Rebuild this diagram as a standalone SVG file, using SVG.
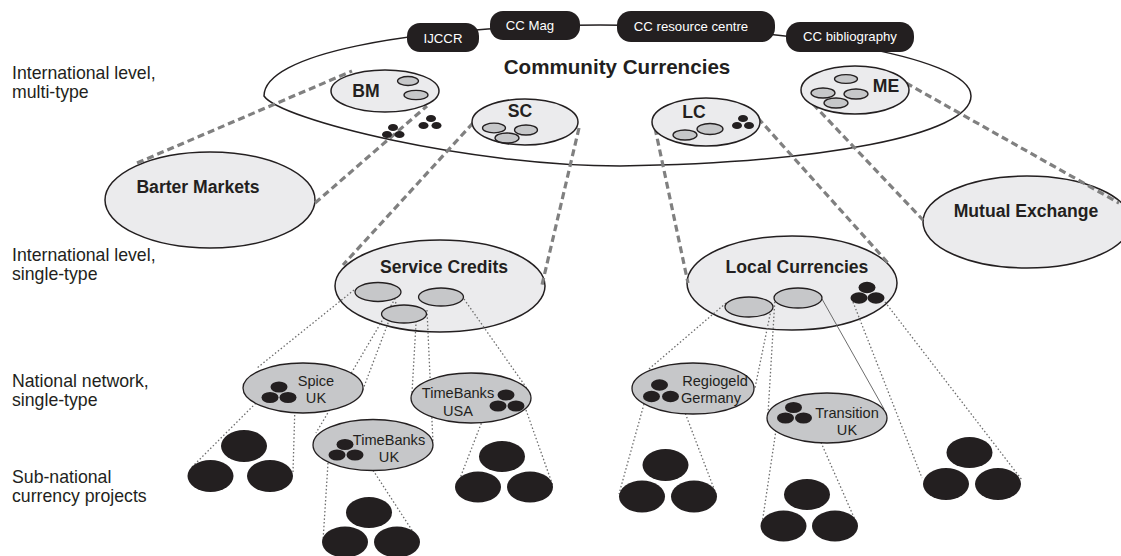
<svg xmlns="http://www.w3.org/2000/svg" width="1121" height="556" viewBox="0 0 1121 556">
<style>
text{font-family:"Liberation Sans",Arial,sans-serif;fill:#231f20}
.lbl{font-size:17.7px}
.b{font-weight:bold;font-size:17.6px}
.n{font-size:14.6px}
.bt{font-size:13.2px;fill:#fff}
.bk{fill:#231f20}
.badge{fill:#231f20}
.light{fill:#ebebed;stroke:#231f20;stroke-width:1.5}
.mid{fill:#c6c7c9;stroke:#231f20;stroke-width:1.3}
.outline{fill:none;stroke:#231f20;stroke-width:1.5}
.dash{stroke:#808080;stroke-width:3.2;stroke-dasharray:7 4;fill:none}
.dot{stroke:#6d6d6d;stroke-width:1.3;stroke-dasharray:1.5 2.2;fill:none}
.thin{stroke:#6d6d6d;stroke-width:1;fill:none}
</style>
<rect width="1121" height="556" fill="#fff"/>

<g id="level-labels">
<text class="lbl" x="12" y="79">International level,</text>
<text class="lbl" x="12" y="98">multi-type</text>
<text class="lbl" x="12" y="261">International level,</text>
<text class="lbl" x="12" y="280">single-type</text>
<text class="lbl" x="12" y="387">National network,</text>
<text class="lbl" x="12" y="406">single-type</text>
<text class="lbl" x="12" y="483">Sub-national</text>
<text class="lbl" x="12" y="502">currency projects</text>
</g>

<g id="community-currencies">
<path class="outline" d="M264,96 C264,55 400,27 600,25 C780,27 971,55 971,96 C971,135 820,163 620,166 C470,166 280,120 264,96 Z"/>
<text x="617" y="74" text-anchor="middle" style="font-weight:bold;font-size:20.6px">Community Currencies</text>
</g>

<g id="barter-markets">
<ellipse class="light" cx="210" cy="200" rx="105" ry="48"/>
<text class="b" x="198" y="193" text-anchor="middle">Barter Markets</text>
</g>
<g id="mutual-exchange">
<ellipse class="light" cx="1027" cy="222" rx="104" ry="46"/>
<text class="b" x="1026" y="217" text-anchor="middle">Mutual Exchange</text>
</g>
<g id="service-credits-shape">
<ellipse class="light" cx="440" cy="286" rx="105" ry="46"/>
<text class="b" x="444" y="273" text-anchor="middle">Service Credits</text>
</g>
<g id="local-currencies-shape">
<ellipse class="light" cx="792" cy="283" rx="105" ry="47"/>
<text class="b" x="797" y="273" text-anchor="middle">Local Currencies</text>
</g>

<g id="connectors">
<line class="dash" x1="137" y1="163" x2="352" y2="71"/>
<line class="dash" x1="315" y1="203" x2="427" y2="106"/>
<line class="dash" x1="473" y1="123" x2="343" y2="265"/>
<line class="dash" x1="579" y1="128" x2="542" y2="285"/>
<line class="dash" x1="655" y1="128" x2="688" y2="283"/>
<line class="dash" x1="758" y1="118" x2="888" y2="263"/>
<line class="dash" x1="813" y1="104" x2="923" y2="220"/>
<line class="dash" x1="906" y1="83" x2="1119" y2="203"/>

<line class="dot" x1="354" y1="290" x2="257" y2="368"/>
<line class="dot" x1="399" y1="292" x2="316" y2="433"/>
<line class="dot" x1="396" y1="302" x2="362" y2="392"/>
<line class="dot" x1="417" y1="306" x2="412" y2="393"/>
<line class="dot" x1="427" y1="310" x2="433" y2="443"/>
<line class="dot" x1="464" y1="299" x2="528" y2="390"/>

<line class="dot" x1="726" y1="303" x2="649" y2="369"/>
<line class="dot" x1="771" y1="310" x2="755" y2="388"/>
<line class="dot" x1="775" y1="298" x2="768" y2="414"/>
<line class="thin" x1="822" y1="299" x2="884" y2="409"/>
<line class="dot" x1="853" y1="302" x2="922" y2="478"/>
<line class="dot" x1="885" y1="302" x2="1022" y2="480"/>

<line class="dot" x1="261" y1="398" x2="192" y2="467"/>
<line class="dot" x1="295" y1="404" x2="293" y2="472"/>
<line class="dot" x1="328" y1="463" x2="323" y2="541"/>
<line class="dot" x1="367" y1="461" x2="419" y2="541"/>
<line class="dot" x1="488" y1="406" x2="457" y2="486"/>
<line class="dot" x1="526" y1="410" x2="553" y2="486"/>
<line class="dot" x1="644" y1="404" x2="619" y2="494"/>
<line class="dot" x1="684" y1="410" x2="716" y2="494"/>
<line class="dot" x1="776" y1="430" x2="762" y2="524"/>
<line class="dot" x1="812" y1="422" x2="856" y2="522"/>
</g>

<g id="badge-ijccr">
<rect class="badge" x="407" y="23" width="72" height="29" rx="13"/>
<text class="bt" x="443" y="42.5" text-anchor="middle">IJCCR</text>
</g>
<g id="badge-ccmag">
<rect class="badge" x="490" y="11" width="90" height="29" rx="13"/>
<text class="bt" x="530" y="30" text-anchor="middle">CC Mag</text>
</g>
<g id="badge-resource">
<rect class="badge" x="617" y="11" width="158" height="31" rx="14"/>
<text class="bt" x="691" y="30.5" text-anchor="middle">CC resource centre</text>
</g>
<g id="badge-bibliography">
<rect class="badge" x="786" y="22" width="128" height="30" rx="14"/>
<text class="bt" x="850" y="41" text-anchor="middle">CC bibliography</text>
</g>

<g id="bm">
<ellipse class="light" cx="385" cy="91" rx="54" ry="21"/>
<text class="b" x="366" y="97" text-anchor="middle">BM</text>
<ellipse class="mid" cx="408" cy="81" rx="10.5" ry="4.5"/>
<ellipse class="mid" cx="416" cy="95" rx="12" ry="4.7"/>
</g>
<g id="bm-projects">
<ellipse class="bk" cx="393" cy="127.5" rx="5" ry="3.6"/>
<ellipse class="bk" cx="387" cy="134.5" rx="5" ry="3.6"/>
<ellipse class="bk" cx="399.5" cy="134.5" rx="5" ry="3.6"/>
<ellipse class="bk" cx="431" cy="118.5" rx="5" ry="3.6"/>
<ellipse class="bk" cx="423.5" cy="125.5" rx="5" ry="3.6"/>
<ellipse class="bk" cx="436.5" cy="125.5" rx="5" ry="3.6"/>
</g>
<g id="sc">
<ellipse class="light" cx="525" cy="122" rx="53" ry="23"/>
<text class="b" x="520" y="117" text-anchor="middle">SC</text>
<ellipse class="mid" cx="494" cy="128" rx="11.5" ry="4.8"/>
<ellipse class="mid" cx="526" cy="130" rx="11.5" ry="5"/>
<ellipse class="mid" cx="507" cy="138" rx="12" ry="5"/>
</g>
<g id="lc">
<ellipse class="light" cx="706" cy="122" rx="54" ry="24"/>
<text class="b" x="694" y="118" text-anchor="middle">LC</text>
<ellipse class="mid" cx="685" cy="135" rx="12" ry="5"/>
<ellipse class="mid" cx="710" cy="129" rx="13" ry="5.5"/>
<ellipse class="bk" cx="743" cy="118.5" rx="5" ry="3.6"/>
<ellipse class="bk" cx="737" cy="125.5" rx="5" ry="3.6"/>
<ellipse class="bk" cx="749" cy="125.5" rx="5" ry="3.6"/>
</g>
<g id="me">
<ellipse class="light" cx="855" cy="90" rx="54" ry="24"/>
<text class="b" x="886" y="92" text-anchor="middle">ME</text>
<ellipse class="mid" cx="846" cy="79" rx="11.5" ry="4.3"/>
<ellipse class="mid" cx="823" cy="93" rx="12" ry="5"/>
<ellipse class="mid" cx="856" cy="94" rx="12" ry="5"/>
<ellipse class="mid" cx="836" cy="103" rx="12" ry="5"/>
</g>

<g id="service-credits-members">
<ellipse class="mid" cx="378" cy="292" rx="23" ry="9.5"/>
<ellipse class="mid" cx="441" cy="297" rx="22.5" ry="9"/>
<ellipse class="mid" cx="404" cy="314" rx="22.5" ry="9"/>
</g>
<g id="local-currencies-members">
<ellipse class="mid" cx="749" cy="307" rx="24" ry="10"/>
<ellipse class="mid" cx="798" cy="298" rx="24" ry="10"/>
<ellipse class="bk" cx="867" cy="287.5" rx="8.5" ry="5.7"/>
<ellipse class="bk" cx="859" cy="298" rx="8.5" ry="5.7"/>
<ellipse class="bk" cx="876" cy="298" rx="8.5" ry="5.7"/>
</g>

<g id="spice-uk">
<ellipse class="mid" cx="303" cy="388" rx="60" ry="25"/>
<ellipse class="bk" cx="279" cy="387" rx="8.5" ry="5.5"/>
<ellipse class="bk" cx="270" cy="397.5" rx="8.5" ry="5.5"/>
<ellipse class="bk" cx="288" cy="397.5" rx="8.5" ry="5.5"/>
<text class="n" x="316" y="386" text-anchor="middle">Spice</text>
<text class="n" x="316" y="403" text-anchor="middle">UK</text>
</g>
<g id="timebanks-uk">
<ellipse class="mid" cx="373" cy="445" rx="60" ry="25.5"/>
<ellipse class="bk" cx="345" cy="444.5" rx="8.5" ry="5.5"/>
<ellipse class="bk" cx="337" cy="455" rx="8.5" ry="5.5"/>
<ellipse class="bk" cx="355" cy="455" rx="8.5" ry="5.5"/>
<text class="n" x="389" y="445" text-anchor="middle">TimeBanks</text>
<text class="n" x="389" y="462" text-anchor="middle">UK</text>
</g>
<g id="timebanks-usa">
<ellipse class="mid" cx="471" cy="398" rx="60" ry="25"/>
<text class="n" x="458" y="398" text-anchor="middle">TimeBanks</text>
<text class="n" x="458" y="416" text-anchor="middle">USA</text>
<ellipse class="bk" cx="506" cy="395" rx="8.5" ry="5.5"/>
<ellipse class="bk" cx="498" cy="406" rx="8.5" ry="5.5"/>
<ellipse class="bk" cx="516" cy="406" rx="8.5" ry="5.5"/>
</g>
<g id="regiogeld-germany">
<ellipse class="mid" cx="693" cy="388.5" rx="61" ry="25.5"/>
<ellipse class="bk" cx="659.5" cy="385" rx="8.5" ry="5.7"/>
<ellipse class="bk" cx="651.5" cy="396.5" rx="8.5" ry="5.7"/>
<ellipse class="bk" cx="670.5" cy="396.5" rx="8.5" ry="5.7"/>
<text class="n" x="715" y="386" text-anchor="middle">Regiogeld</text>
<text class="n" x="711" y="403" text-anchor="middle">Germany</text>
</g>
<g id="transition-uk">
<ellipse class="mid" cx="827" cy="418" rx="60" ry="25"/>
<ellipse class="bk" cx="793.5" cy="407.5" rx="8.5" ry="5.5"/>
<ellipse class="bk" cx="785.5" cy="418" rx="8.5" ry="5.5"/>
<ellipse class="bk" cx="803.5" cy="418" rx="8.5" ry="5.5"/>
<text class="n" x="847" y="418" text-anchor="middle">Transition</text>
<text class="n" x="847" y="435" text-anchor="middle">UK</text>
</g>

<g id="projects-spice">
<ellipse class="bk" cx="244" cy="446" rx="23" ry="16"/>
<ellipse class="bk" cx="210.5" cy="476" rx="23" ry="16"/>
<ellipse class="bk" cx="270" cy="476" rx="23" ry="16"/>
</g>
<g id="projects-timebanks-uk">
<ellipse class="bk" cx="369" cy="512.5" rx="23" ry="15.5"/>
<ellipse class="bk" cx="345" cy="542" rx="23" ry="15.5"/>
<ellipse class="bk" cx="397" cy="542" rx="23" ry="15.5"/>
</g>
<g id="projects-timebanks-usa">
<ellipse class="bk" cx="502" cy="456.5" rx="23" ry="15.5"/>
<ellipse class="bk" cx="478" cy="487" rx="23" ry="15.5"/>
<ellipse class="bk" cx="530" cy="487" rx="23" ry="15.5"/>
</g>
<g id="projects-regiogeld">
<ellipse class="bk" cx="665.5" cy="465" rx="23" ry="16"/>
<ellipse class="bk" cx="642" cy="496.5" rx="23" ry="16"/>
<ellipse class="bk" cx="694" cy="496.5" rx="23" ry="16"/>
</g>
<g id="projects-transition">
<ellipse class="bk" cx="807" cy="494.5" rx="23" ry="15.5"/>
<ellipse class="bk" cx="783.5" cy="526" rx="23" ry="15.5"/>
<ellipse class="bk" cx="835" cy="526" rx="23" ry="15.5"/>
</g>
<g id="projects-local">
<ellipse class="bk" cx="969.5" cy="452.5" rx="23" ry="15.5"/>
<ellipse class="bk" cx="946" cy="484" rx="23" ry="16"/>
<ellipse class="bk" cx="998" cy="484" rx="23" ry="16"/>
</g>
</svg>
